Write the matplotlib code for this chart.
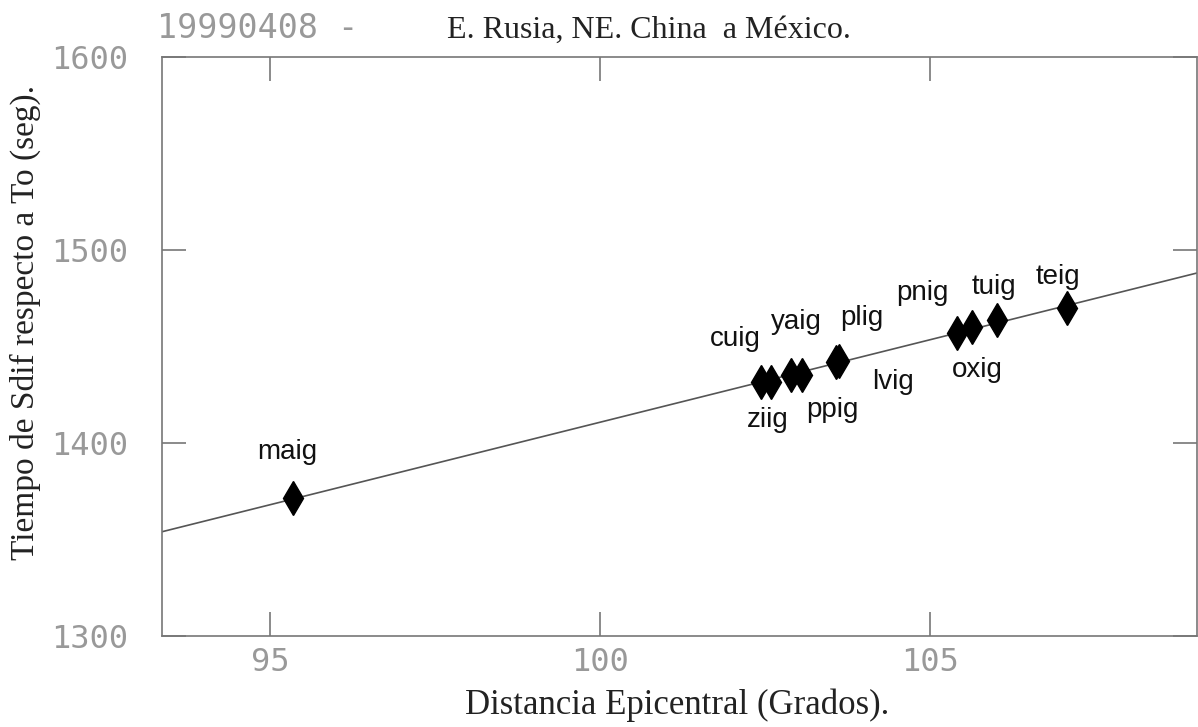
import numpy as np
import matplotlib
matplotlib.use('Agg')
import matplotlib.pyplot as plt

# estaciones y lecturas (distancia en grados, tiempo Sdif en seg)
estaciones = ['maig', 'ziig', 'cuig', 'yaig', 'ppig', 'plig', 'lvig', 'pnig', 'oxig', 'tuig', 'teig']
distancia = [95.35, 102.45, 102.60, 102.90, 103.06, 103.58, 103.62, 105.42, 105.64, 106.02, 107.08]
tiempo = [1371.5, 1431.6, 1431.8, 1435.0, 1435.2, 1442.0, 1442.3, 1457.0, 1460.1, 1463.7, 1470.0]

# posiciones de las etiquetas (en coordenadas de datos)
etiqueta_x = [95.27, 102.55, 102.05, 102.98, 103.52, 103.97, 104.44, 104.89, 105.73, 105.98, 106.94]
etiqueta_y = [1395.3, 1411.9, 1453.9, 1462.7, 1417.0, 1464.8, 1431.6, 1477.7, 1437.8, 1480.8, 1486.0]

xticks = [95, 100, 105]
yticks = [1300, 1400, 1500, 1600]

gris = '#999999'
fig = plt.figure(figsize=(11.98, 7.27), dpi=100)
ax = fig.add_axes([0.135, 0.1252, 0.864, 0.7964])
ax.set_xlim(93.36, 109.05)
ax.set_ylim(1300, 1600)

# recta de ajuste por minimos cuadrados
m, b = np.polyfit(distancia, tiempo, 1)
xs = np.array(ax.get_xlim())
ax.plot(xs, m * xs + b, color='#555555', lw=1.2, zorder=2)

ax.plot(distancia, tiempo, 'd', color='black', ms=17, zorder=3)

for est, lx, ly in zip(estaciones, etiqueta_x, etiqueta_y):
    ax.text(lx, ly, est, ha='center', va='center', fontsize=20,
            family='Liberation Sans', color='#111111')

ax.set_xticks(xticks)
ax.set_yticks(yticks)
ax.tick_params(direction='in', length=17, width=1.2, color='#777777',
               top=True, right=True, labelsize=23, labelcolor=gris)
ax.tick_params(axis='x', pad=8)
ax.tick_params(axis='y', pad=24)
for lab in ax.get_xticklabels() + ax.get_yticklabels():
    lab.set_family('DejaVu Sans Mono')
for sp in ax.spines.values():
    sp.set_color('#777777')
    sp.set_linewidth(1.2)

fig.text(157 / 1198, 1 - 28 / 727, '19990408 -', ha='left', va='center',
         fontsize=24, family='DejaVu Sans Mono', color=gris)
fig.text(447 / 1198, 1 - 30 / 727, 'E. Rusia, NE. China  a México.', ha='left', va='center',
         fontsize=23, family='Liberation Serif', color='#222222')
fig.text(677 / 1198, 1 - 705 / 727, 'Distancia Epicentral (Grados).', ha='center', va='center',
         fontsize=25, family='Liberation Serif', color='#222222')
fig.text(25 / 1198, 1 - 322 / 727, 'Tiempo de Sdif respecto a To (seg).', ha='center', va='center',
         rotation=90, fontsize=24, family='Liberation Serif', color='#222222')

fig.savefig('out.png', dpi=100)
